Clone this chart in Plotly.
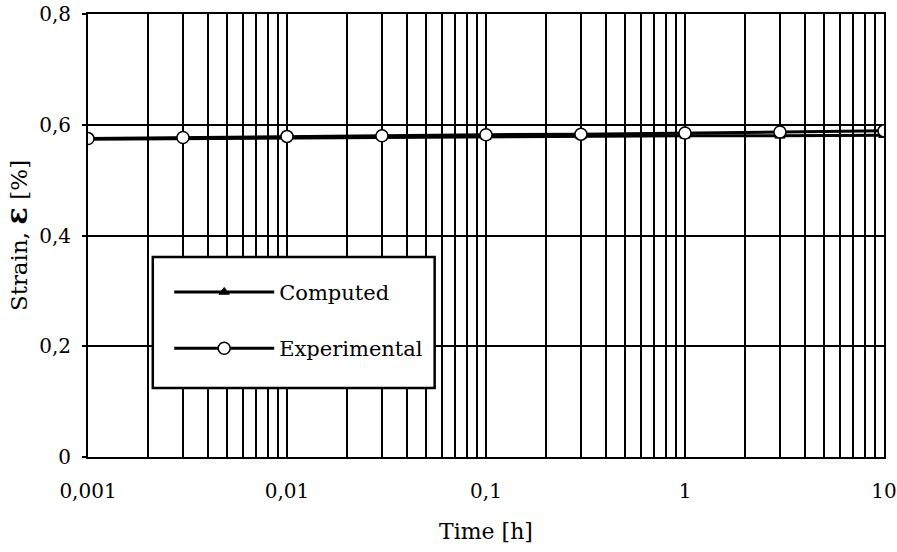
import plotly.graph_objects as go

time_h = [0.001, 0.003, 0.01, 0.03, 0.1, 0.3, 1, 3, 10]
computed = [0.574, 0.575, 0.577, 0.577, 0.578, 0.579, 0.580, 0.580, 0.581]
experimental = [0.575, 0.577, 0.579, 0.580, 0.582, 0.583, 0.585, 0.587, 0.589]

x_major = [0.001, 0.01, 0.1, 1, 10]
x_major_text = ["0,001", "0,01", "0,1", "1", "10"]
y_ticks = [0, 0.2, 0.4, 0.6, 0.8]
y_tick_text = ["0", "0,2", "0,4", "0,6", "0,8"]

# grid positions (1..9 per decade)
x_grid = []
for dec in [0.001, 0.01, 0.1, 1]:
    for m in range(1, 10):
        x_grid.append(round(dec * m, 6))
x_grid.append(10)
x_grid_text = [x_major_text[x_major.index(v)] if v in x_major else "" for v in x_grid]

FONT = "DejaVu Serif"


def f(size):
    return dict(family=FONT, size=size, color="black")


fig = go.Figure()
fig.add_trace(go.Scatter(
    x=time_h, y=computed, name="Computed", mode="lines+markers",
    line=dict(color="black", width=3),
    marker=dict(symbol="triangle-up", size=9, color="black", line=dict(color="black", width=1)),
    legendgroup="c",
))
fig.add_trace(go.Scatter(
    x=time_h, y=experimental, name="Experimental", mode="lines+markers",
    line=dict(color="black", width=3),
    marker=dict(symbol="circle", size=12, color="white", line=dict(color="black", width=1.5)),
    legendgroup="e",
))

fig.update_layout(
    width=897, height=552,
    margin=dict(l=88, r=13, t=14, b=95, autoexpand=False),
    paper_bgcolor="white", plot_bgcolor="white",
    font=f(20),
    showlegend=True,
    legend=dict(
        x=0.102, y=0.418, xanchor="left", yanchor="top",
        bgcolor="rgba(0,0,0,0)", borderwidth=0,
        itemwidth=100, tracegroupgap=26, traceorder="grouped",
        font=f(21),
    ),
    xaxis=dict(
        type="log", range=[-3, 1], automargin=False,
        tickmode="array", tickvals=x_grid, ticktext=x_grid_text,
        tickfont=f(20),
        showgrid=True, gridcolor="black", gridwidth=2,
        showline=True, linecolor="black", linewidth=2, mirror=True,
        ticks="", ticklabelstandoff=15, ticklabeloverflow="allow",
        zeroline=False,
        title=dict(text="Time [h]", standoff=22, font=f(22)),
    ),
    yaxis=dict(
        range=[0, 0.8], automargin=False,
        tickmode="array", tickvals=y_ticks, ticktext=y_tick_text,
        tickfont=f(20),
        showgrid=True, gridcolor="black", gridwidth=2,
        showline=True, linecolor="black", linewidth=2, mirror=True,
        ticks="outside", ticklen=4, tickcolor="black", tickwidth=2,
        ticklabelstandoff=7, ticklabeloverflow="allow", zeroline=False,
        title=dict(text="Strain, <b><span style='font-size:29px'>ε</span></b> [%]", standoff=16,
                   font=f(23)),
    ),
    shapes=[dict(
        type="rect", xref="paper", yref="paper",
        x0=0.0814, x1=0.4355, y0=0.156, y1=0.4515,
        fillcolor="white", line=dict(color="black", width=2.5), layer="above",
    )],
)

fig.write_html("out.html")
